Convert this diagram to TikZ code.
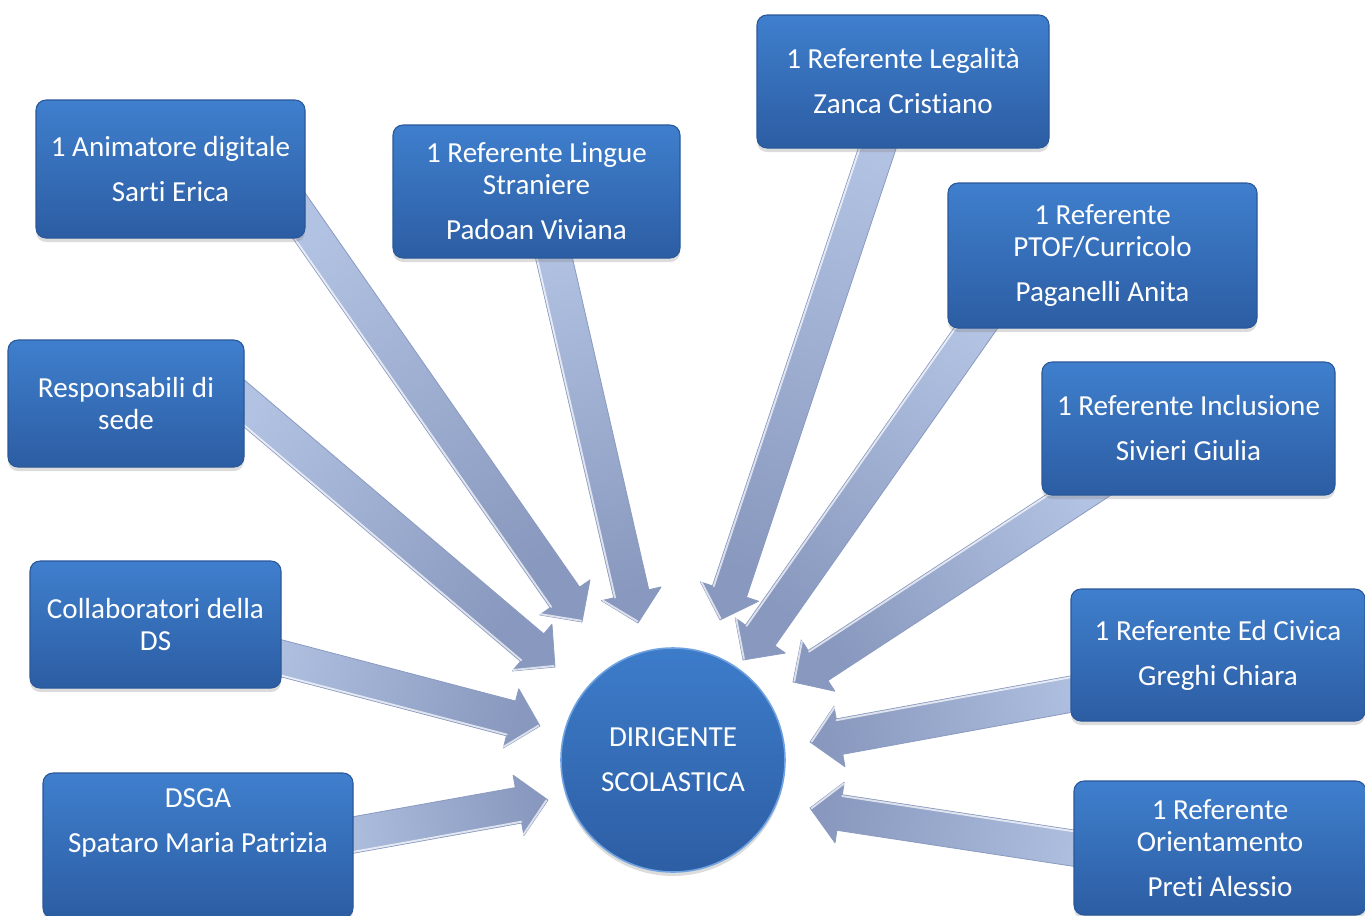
\documentclass[tikz,border=0pt]{standalone}
\usepackage{fontspec}
\setmainfont[RawFeature={-liga;-clig;-calt;-dlig}]{Carlito}
\usetikzlibrary{calc,shadows}
\definecolor{boxtop}{HTML}{3F7FCD}
\definecolor{boxbot}{HTML}{2C5DA3}
\definecolor{boxedge}{HTML}{2A5899}
\definecolor{arrlight}{HTML}{B2C2E2}
\definecolor{arrdark}{HTML}{8898BE}
\definecolor{arredge}{HTML}{8A9AC0}
\definecolor{circtop}{HTML}{3D7CCA}
\definecolor{circbot}{HTML}{2D5EA4}
\definecolor{circrim}{HTML}{6FA2E0}
\pgfdeclarelayer{bg}
\pgfsetlayers{bg,main}
\tikzset{
  txt/.style={text=white, align=center, font=\fontsize{21.8pt}{24pt}\selectfont},
  bx/.style 2 args={rectangle, rounded corners=7.5pt, top color=boxtop, bottom color=boxbot,
    draw=boxedge, line width=0.8pt, inner sep=0pt, minimum width=#1, minimum height=#2,
    txt, drop shadow={shadow xshift=0pt, shadow yshift=-3pt, opacity=0.28}},
  hub/.style={circle, minimum size=168pt, inner sep=0pt, top color=circtop, bottom color=circbot,
    draw=circrim, line width=1.2pt, txt, drop shadow={shadow xshift=0pt, shadow yshift=-3pt, opacity=0.28}},
  arrbody/.style={draw=arredge, line width=0.6pt, line join=round},
  arrhi/.style={draw=white, opacity=0.7, line width=1.4pt, line cap=round},
}
\newcommand\bigarrow[2]{%
  \pgfmathanglebetweenpoints{\pgfpointanchor{#1}{center}}{\pgfpointanchor{#2}{center}}%
  \pgfmathsetmacro\arrsh{\pgfmathresult+90}%
  \coordinate (arrH) at ($(#2)!22.5pt!(#1)$);
  \shade[top color=arrlight, bottom color=arrdark, shading angle=\arrsh, arrbody]
    ($(#1)!13.5pt!90:(#2)$) -- ($(arrH)!13.5pt!90:(#2)$) -- ($(arrH)!23pt!90:(#2)$) -- (#2)
    -- ($(arrH)!23pt!-90:(#2)$) -- ($(arrH)!13.5pt!-90:(#2)$) -- ($(#1)!13.5pt!-90:(#2)$) -- cycle;
  \draw[arrhi] ($(#1)!12.5pt!-90:(#2)$) -- ($(arrH)!12.5pt!-90:(#2)$);
  \draw[arrhi] ($(arrH)!22pt!-90:(#2)$) -- ($(#2)!1.2pt!(#1)$);
}
\begin{document}
\begin{tikzpicture}[x=0.75pt,y=-0.75pt]
\useasboundingbox (0,0) rectangle (1365,915);
\clip (0,0) rectangle (1365,915);

% boxes
\node[bx={201.75pt}{103.5pt}] (b1) at (170.5,169) {1 Animatore digitale\\[9.75pt]Sarti Erica};
\node[bx={215.25pt}{99.75pt}] (b2) at (536.5,191.5) {1 Referente Lingue\\Straniere\\[9.75pt]Padoan Viviana};
\node[bx={219pt}{99.75pt}] (b3) at (903,81.5) {1 Referente Legalità\\[9.75pt]Zanca Cristiano};
\node[bx={231.75pt}{108.75pt}] (b4) at (1102.5,255.5) {1 Referente\\PTOF/Curricolo\\[9.75pt]Paganelli Anita};
\node[bx={219.75pt}{99.75pt}] (b5) at (1188.5,428.5) {1 Referente Inclusione\\[9.75pt]Sivieri Giulia};
\node[bx={220.5pt}{99pt}] (b6) at (1218,655) {1 Referente Ed Civica\\[9.75pt]Greghi Chiara};
\node[bx={219pt}{100.5pt}] (b7) at (1220,848) {1 Referente\\Orientamento\\[9.75pt]Preti Alessio};
\node[bx={177pt}{95.25pt}] (b8) at (126,403.5) {Responsabili di\\sede};
\node[bx={188.25pt}{95.25pt}] (b9) at (155.5,624.5) {Collaboratori della\\DS};
\node[bx={232.5pt}{108.75pt}] (b10) at (198,845.5) {};
\node[txt] (b10t) at (198,822.5) {DSGA\\[9.75pt]Spataro Maria Patrizia};

% hub
\node[hub] (ds) at (673,760) {DIRIGENTE\\[9.75pt]SCOLASTICA};

% arrow ends
\coordinate (t1) at (279,187);   \coordinate (p1) at (582,622);
\coordinate (t2) at (545,219);   \coordinate (p2) at (638,623);
\coordinate (t3) at (890,110);   \coordinate (p3) at (720,620);
\coordinate (t4) at (999,295);   \coordinate (p4) at (743,660);
\coordinate (t5) at (1112,473);  \coordinate (p5) at (793,682);
\coordinate (t6) at (1110,687);  \coordinate (p6) at (810,742);
\coordinate (t7) at (1112,854);  \coordinate (p7) at (810,808);
\coordinate (t8) at (213,377);   \coordinate (p8) at (555,667);
\coordinate (t9) at (242,648);   \coordinate (p9) at (540,726);
\coordinate (t10) at (314,842);  \coordinate (p10) at (548,800);

\begin{pgfonlayer}{bg}
\bigarrow{t1}{p1}
\bigarrow{t2}{p2}
\bigarrow{t3}{p3}
\bigarrow{t4}{p4}
\bigarrow{t5}{p5}
\bigarrow{t6}{p6}
\bigarrow{t7}{p7}
\bigarrow{t8}{p8}
\bigarrow{t9}{p9}
\bigarrow{t10}{p10}
\end{pgfonlayer}
\end{tikzpicture}
\end{document}
